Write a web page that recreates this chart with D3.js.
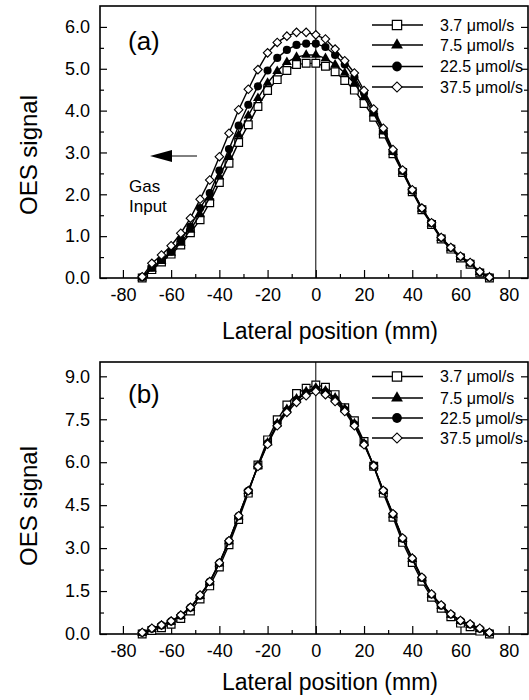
<!DOCTYPE html>
<html><head><meta charset="utf-8">
<script src="https://cdn.jsdelivr.net/npm/d3@7"></script>
<style>body{margin:0;background:#fff}svg{display:block}text{font-family:"Liberation Sans",Arial,sans-serif;fill:#000}</style>
</head><body>
<svg id="chart" width="529" height="700"></svg>
<script>
// ---------- data ----------
const xPositions = [-72,-68,-64,-60,-56,-52,-48,-44,-40,-36,-32,-28,-24,-20,-16,-12,-8,-4,0,4,8,12,16,20,24,28,32,36,40,44,48,52,56,60,64,68,72];
const seriesLabels = ["3.7 \u03bcmol/s","7.5 \u03bcmol/s","22.5 \u03bcmol/s","37.5 \u03bcmol/s"];
const xTickValues = [-80,-60,-40,-20,0,20,40,60,80];
const aYTickValues = [0,1,2,3,4,5,6];
const bYTickValues = [0,1.5,3,4.5,6,7.5,9];

// panel (a)
const a37 = [0.0,0.2,0.38,0.57,0.79,1.08,1.39,1.80,2.28,2.74,3.24,3.66,4.10,4.48,4.74,4.96,5.10,5.13,5.13,5.06,4.93,4.72,4.49,4.17,3.84,3.44,2.97,2.52,2.06,1.63,1.28,0.93,0.69,0.48,0.33,0.12,0.0];
const a75 = [0.01,0.22,0.40,0.60,0.84,1.15,1.52,1.92,2.42,2.90,3.42,3.88,4.30,4.66,4.94,5.16,5.28,5.33,5.33,5.25,5.10,4.90,4.65,4.32,3.93,3.50,3.01,2.54,2.08,1.65,1.30,0.95,0.71,0.50,0.35,0.14,0.02];
const a225 = [0.02,0.25,0.43,0.63,0.91,1.23,1.67,2.03,2.57,3.08,3.64,4.14,4.58,4.96,5.26,5.45,5.57,5.60,5.60,5.52,5.33,5.10,4.80,4.42,3.98,3.53,3.03,2.56,2.09,1.66,1.31,0.96,0.72,0.51,0.36,0.14,0.02];
const a375 = [0.03,0.35,0.55,0.77,1.07,1.43,1.88,2.34,2.90,3.46,4.02,4.51,4.98,5.38,5.63,5.78,5.87,5.87,5.81,5.71,5.47,5.19,4.90,4.48,4.04,3.58,3.07,2.58,2.11,1.67,1.32,0.97,0.73,0.52,0.37,0.15,0.02];

// panel (b)
const b37 = [0.0,0.12,0.22,0.34,0.54,0.80,1.22,1.68,2.34,3.12,4.00,4.92,5.90,6.78,7.48,8.00,8.40,8.58,8.70,8.62,8.36,7.90,7.45,6.72,5.86,4.92,4.08,3.20,2.50,1.84,1.28,0.90,0.60,0.38,0.25,0.10,0.0];
const b75 = [0.03,0.17,0.29,0.42,0.62,0.90,1.32,1.80,2.46,3.23,4.10,4.99,5.88,6.68,7.35,7.85,8.22,8.47,8.60,8.50,8.25,7.87,7.35,6.66,5.88,4.99,4.16,3.31,2.61,1.94,1.37,0.98,0.67,0.45,0.32,0.17,0.03];
const b225 = [0.04,0.18,0.30,0.44,0.64,0.92,1.34,1.82,2.48,3.25,4.12,5.00,5.87,6.66,7.32,7.80,8.17,8.42,8.55,8.45,8.20,7.83,7.32,6.64,5.88,5.00,4.18,3.33,2.63,1.96,1.38,0.99,0.68,0.46,0.33,0.18,0.04];
const b375 = [0.05,0.20,0.31,0.45,0.66,0.93,1.36,1.83,2.49,3.26,4.13,5.00,5.85,6.63,7.27,7.74,8.09,8.32,8.47,8.36,8.12,7.77,7.27,6.61,5.87,5.01,4.20,3.35,2.65,1.98,1.40,1.01,0.70,0.47,0.35,0.20,0.05];

// ---------- drawing ----------
const svg = d3.select("#chart");
const X0 = 100, X1 = 528;
const x = d3.scaleLinear().domain([-89.5, 88]).range([X0, X1]);

const markerKinds = ["square","triangle","circle","diamond"];
function drawMarker(g, kind, cx, cy, scale) {
  const s = scale || 1;
  if (kind === "square") {
    g.append("path").attr("d", d3.symbol(d3.symbolSquare, 60 * s * s)())
      .attr("transform", `translate(${cx},${cy})`)
      .attr("fill", "#fff").attr("stroke", "#000").attr("stroke-width", 1.2);
  } else if (kind === "triangle") {
    g.append("path").attr("d", d3.symbol(d3.symbolTriangle, 42 * s * s)())
      .attr("transform", `translate(${cx},${cy})`).attr("fill", "#000");
  } else if (kind === "circle") {
    g.append("path").attr("d", d3.symbol(d3.symbolCircle, 52 * s * s)())
      .attr("transform", `translate(${cx},${cy})`).attr("fill", "#000");
  } else {
    g.append("path").attr("d", d3.symbol(d3.symbolSquare, 36 * s * s)())
      .attr("transform", `translate(${cx},${cy}) rotate(45)`)
      .attr("fill", "#fff").attr("stroke", "#000").attr("stroke-width", 1.1);
  }
}

function panel(cfg) {
  const y = d3.scaleLinear().domain([0, cfg.yMax]).range([cfg.bottom, cfg.top]);
  const g = svg.append("g");

  const yMinor = [];
  for (let i = 0; i < cfg.yTicks.length; i++) {
    const m = cfg.yTicks[i] + cfg.yStep / 2;
    if (m < cfg.yMax) yMinor.push(m);
  }
  const xMinor = [-70,-50,-30,-10,10,30,50,70];

  const left = g.append("g").attr("transform", `translate(${X0},0)`)
    .call(d3.axisLeft(y).tickValues(cfg.yTicks).tickSizeInner(-7).tickSizeOuter(0).tickPadding(10)
      .tickFormat(d3.format(".1f")));
  left.append("g").call(d3.axisLeft(y).tickValues(yMinor).tickSizeInner(-4).tickSizeOuter(0).tickFormat(""));
  const right = g.append("g").attr("transform", `translate(${X1},0)`)
    .call(d3.axisRight(y).tickValues(cfg.yTicks).tickSizeInner(-7).tickSizeOuter(0).tickFormat(""));
  right.append("g").call(d3.axisRight(y).tickValues(yMinor).tickSizeInner(-4).tickSizeOuter(0).tickFormat(""));
  const bottom = g.append("g").attr("transform", `translate(0,${cfg.bottom})`)
    .call(d3.axisBottom(x).tickValues(xTickValues).tickSizeInner(-8).tickSizeOuter(0).tickPadding(10)
      .tickFormat(d => String(d)));
  bottom.append("g").call(d3.axisBottom(x).tickValues(xMinor).tickSizeInner(-4).tickSizeOuter(0).tickFormat(""));

  g.selectAll(".domain").remove();
  g.selectAll(".tick line").attr("stroke", "#000").attr("stroke-width", 1.2);
  g.selectAll(".tick text").attr("font-size", 18).attr("font-family", '"Liberation Sans",Arial,sans-serif');

  g.append("rect").attr("x", X0).attr("y", cfg.top).attr("width", X1 - X0).attr("height", cfg.bottom - cfg.top)
    .attr("fill", "none").attr("stroke", "#000").attr("stroke-width", 1.6);
  g.append("line").attr("x1", x(0)).attr("x2", x(0)).attr("y1", cfg.top).attr("y2", cfg.bottom)
    .attr("stroke", "#000").attr("stroke-width", 1);

  const line = d3.line().x((d, i) => x(xPositions[i])).y(d => y(d));
  cfg.series.forEach((vals, si) => {
    g.append("path").datum(vals).attr("d", line).attr("fill", "none")
      .attr("stroke", "#000").attr("stroke-width", 1.4);
    vals.forEach((v, i) => drawMarker(g, markerKinds[si], x(xPositions[i]), y(v)));
  });

  seriesLabels.forEach((lab, i) => {
    const ly = cfg.legendRows[i];
    g.append("line").attr("x1", 372).attr("x2", 423).attr("y1", ly).attr("y2", ly)
      .attr("stroke", "#000").attr("stroke-width", 1.4);
    drawMarker(g, markerKinds[i], 397, ly, 1.2);
    g.append("text").attr("x", 440).attr("y", ly).attr("dy", "0.35em")
      .attr("font-size", 16).text(lab);
  });

  g.append("text").attr("x", 128).attr("y", cfg.labelY).attr("font-size", 26).text(cfg.label);

  g.append("text").attr("x", 330).attr("y", cfg.xTitleY).attr("text-anchor", "middle")
    .attr("font-size", 23).text("Lateral position (mm)");
  g.append("text").attr("transform", `translate(37,${cfg.yTitleY}) rotate(-90)`)
    .attr("text-anchor", "middle").attr("font-size", 24).text("OES signal");
  return g;
}

const ga = panel({top: 6, bottom: 278, yMax: 6.5, yTicks: aYTickValues, yStep: 1,
  series: [a37, a75, a225, a375], legendRows: [25, 45, 66.5, 87], label: "(a)", labelY: 50,
  xTitleY: 339, yTitleY: 155});

panel({top: 362, bottom: 634, yMax: 9.5, yTicks: bYTickValues, yStep: 1.5,
  series: [b37, b75, b225, b375], legendRows: [376.5, 398, 418, 438], label: "(b)", labelY: 403,
  xTitleY: 690, yTitleY: 506});

// Gas input annotation (panel a)
ga.append("line").attr("x1", 170).attr("x2", 197).attr("y1", 156).attr("y2", 156)
  .attr("stroke", "#000").attr("stroke-width", 1);
ga.append("path").attr("d", "M150,156 L172,150 L172,162 Z").attr("fill", "#000");
ga.append("text").attr("x", 129).attr("y", 192).attr("font-size", 17).text("Gas");
ga.append("text").attr("x", 129).attr("y", 212).attr("font-size", 17).text("Input");
</script>
</body></html>
